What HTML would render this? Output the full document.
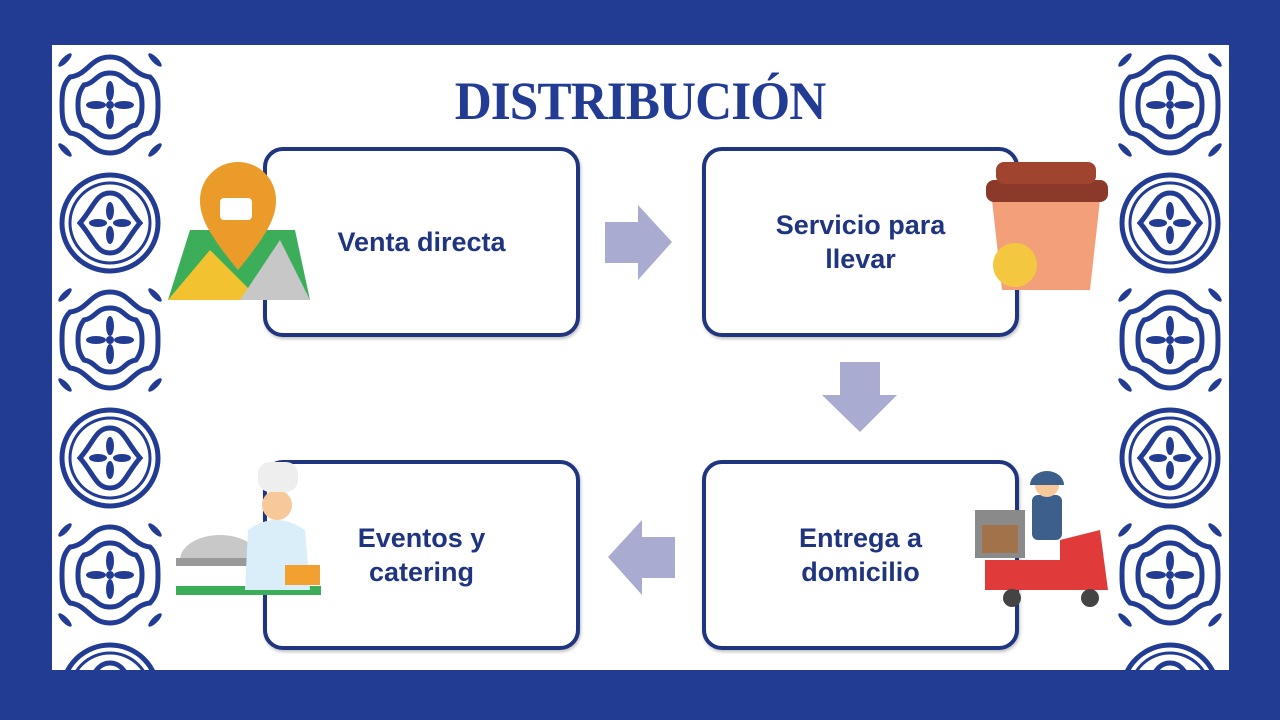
<!DOCTYPE html>
<html><head><meta charset="utf-8"><style>
body{margin:0;width:1280px;height:720px;background:#223c94;overflow:hidden;position:relative;font-family:"Liberation Sans",sans-serif}
.panel{position:absolute;left:52px;top:45px;width:1177px;height:625px;background:#fff;overflow:hidden}
.box{position:absolute;width:309px;height:182px;border:4px solid #1f3580;border-radius:20px;background:#fff;display:flex;align-items:center;justify-content:center;text-align:center;color:#1f3580;font-weight:bold;font-size:27px;line-height:34px;box-shadow:1px 2px 3px rgba(0,0,0,.25)}
h1{position:absolute;left:0;width:1280px;top:70px;margin:0;text-align:center;font-family:"Liberation Serif",serif;font-size:54px;color:#223c94;font-weight:bold;letter-spacing:-1px;transform:scaleX(0.95)}
svg{position:absolute}
</style></head><body>
<div class="panel"></div>
<svg width="1280" height="720" style="left:0;top:0">
<defs>
<g id="t1" fill="none" stroke="#223c94" stroke-width="5">
<path d="M0,-48 C20,-48 22,-30 40,-28 C48,-20 48,-10 48,0 C48,10 48,20 40,28 C22,30 20,48 0,48 C-20,48 -22,30 -40,28 C-48,20 -48,10 -48,0 C-48,-10 -48,-20 -40,-28 C-22,-30 -20,-48 0,-48Z"/>
<path d="M0,-32 C14,-32 14,-22 26,-20 C32,-12 32,-5 32,0 C32,5 32,12 26,20 C14,22 14,32 0,32 C-14,32 -14,22 -26,20 C-32,12 -32,5 -32,0 C-32,-5 -32,-12 -26,-20 C-14,-22 -14,-32 0,-32Z"/>
<g fill="#223c94" stroke="none"><ellipse cx="0" cy="-14" rx="4" ry="10"/><ellipse cx="0" cy="14" rx="4" ry="10"/><ellipse cx="-14" cy="0" rx="10" ry="4"/><ellipse cx="14" cy="0" rx="10" ry="4"/><circle r="4"/>
<ellipse cx="-45" cy="-45" rx="3" ry="9" transform="rotate(45 -45 -45)"/><ellipse cx="45" cy="-45" rx="3" ry="9" transform="rotate(-45 45 -45)"/><ellipse cx="-45" cy="45" rx="3" ry="9" transform="rotate(-45 -45 45)"/><ellipse cx="45" cy="45" rx="3" ry="9" transform="rotate(45 45 45)"/></g>
</g>
<g id="t2" fill="none" stroke="#223c94" stroke-width="5">
<circle r="48"/><circle r="40" stroke-width="3"/>
<path d="M0,-30 C14,-30 16,-16 30,0 C16,16 14,30 0,30 C-14,30 -16,16 -30,0 C-16,-16 -14,-30 0,-30Z"/>
<g fill="#223c94" stroke="none"><ellipse cx="0" cy="-12" rx="4" ry="9"/><ellipse cx="0" cy="12" rx="4" ry="9"/><ellipse cx="-12" cy="0" rx="9" ry="4"/><ellipse cx="12" cy="0" rx="9" ry="4"/></g>
</g>
</defs>
<use href="#t1" x="110" y="105"/><use href="#t2" x="110" y="223"/><use href="#t1" x="110" y="340"/><use href="#t2" x="110" y="458"/><use href="#t1" x="110" y="575"/><use href="#t2" x="110" y="693"/>
<use href="#t1" x="1170" y="105"/><use href="#t2" x="1170" y="223"/><use href="#t1" x="1170" y="340"/><use href="#t2" x="1170" y="458"/><use href="#t1" x="1170" y="575"/><use href="#t2" x="1170" y="693"/>
<rect x="0" y="670" width="1280" height="50" fill="#223c94"/>
<rect x="0" y="0" width="1280" height="45" fill="#223c94"/>
<rect x="0" y="0" width="52" height="720" fill="#223c94"/>
<rect x="1229" y="0" width="51" height="720" fill="#223c94"/>
</svg>
<h1>DISTRIBUCIÓN</h1>
<div class="box" style="left:263px;top:147px">Venta directa</div>
<div class="box" style="left:702px;top:147px">Servicio para<br>llevar</div>
<div class="box" style="left:263px;top:460px">Eventos y<br>catering</div>
<div class="box" style="left:702px;top:460px">Entrega a<br>domicilio</div>
<svg width="1280" height="720" style="left:0;top:0">
<g fill="#a9abd0">
<polygon points="605,222 638,222 638,205 672,242 638,280 638,263 605,263"/>
<polygon points="840,362 880,362 880,395 897,395 860,432 822,395 840,395"/>
<polygon points="675,537 642,537 642,520 608,557 642,595 642,578 675,578"/>
</g>
<polygon points="168,300 190,230 295,230 310,300" fill="#3cae5a"/>
<polygon points="168,300 210,250 260,300" fill="#f2c230"/>
<polygon points="240,300 280,240 310,300" fill="#c7c7c7"/>
<path d="M238,270 C205,230 200,215 200,200 a38,38 0 0 1 76,0 c0,15 -5,30 -38,70z" fill="#eb9b2a"/>
<rect x="220" y="198" width="32" height="22" rx="4" fill="#fff"/>
<path d="M992,200 L1100,200 L1090,290 L1002,290Z" fill="#f3a07a"/>
<rect x="986" y="180" width="122" height="22" rx="8" fill="#8b3a2a"/>
<rect x="996" y="162" width="100" height="22" rx="8" fill="#a0442f"/>
<circle cx="1015" cy="265" r="22" fill="#f3c840"/>
<rect x="176" y="586" width="145" height="9" fill="#3cae5a"/>
<path d="M180,560 a40,25 0 0 1 80,0z" fill="#c8c8c8"/>
<rect x="176" y="558" width="82" height="8" fill="#999"/>
<path d="M245,590 L248,530 Q275,510 305,530 L310,590Z" fill="#d9eef8"/>
<circle cx="277" cy="505" r="15" fill="#f6c89a"/>
<rect x="258" y="462" width="40" height="30" rx="12" fill="#eee"/>
<rect x="285" y="565" width="35" height="20" fill="#f2a030"/>
<path d="M985,560 L1060,560 L1060,540 L1100,530 L1108,590 L985,590Z" fill="#e03a3a"/>
<circle cx="1012" cy="598" r="9" fill="#444"/><circle cx="1090" cy="598" r="9" fill="#444"/>
<rect x="975" y="510" width="50" height="48" fill="#8a8a8a"/>
<rect x="982" y="525" width="36" height="28" fill="#a2724a"/>
<rect x="1032" y="495" width="30" height="45" rx="6" fill="#3d5f8c"/>
<circle cx="1047" cy="485" r="12" fill="#f6c89a"/>
<path d="M1030,485 a17,14 0 0 1 34,0z" fill="#3d5f8c"/>
</svg>
</body></html>
